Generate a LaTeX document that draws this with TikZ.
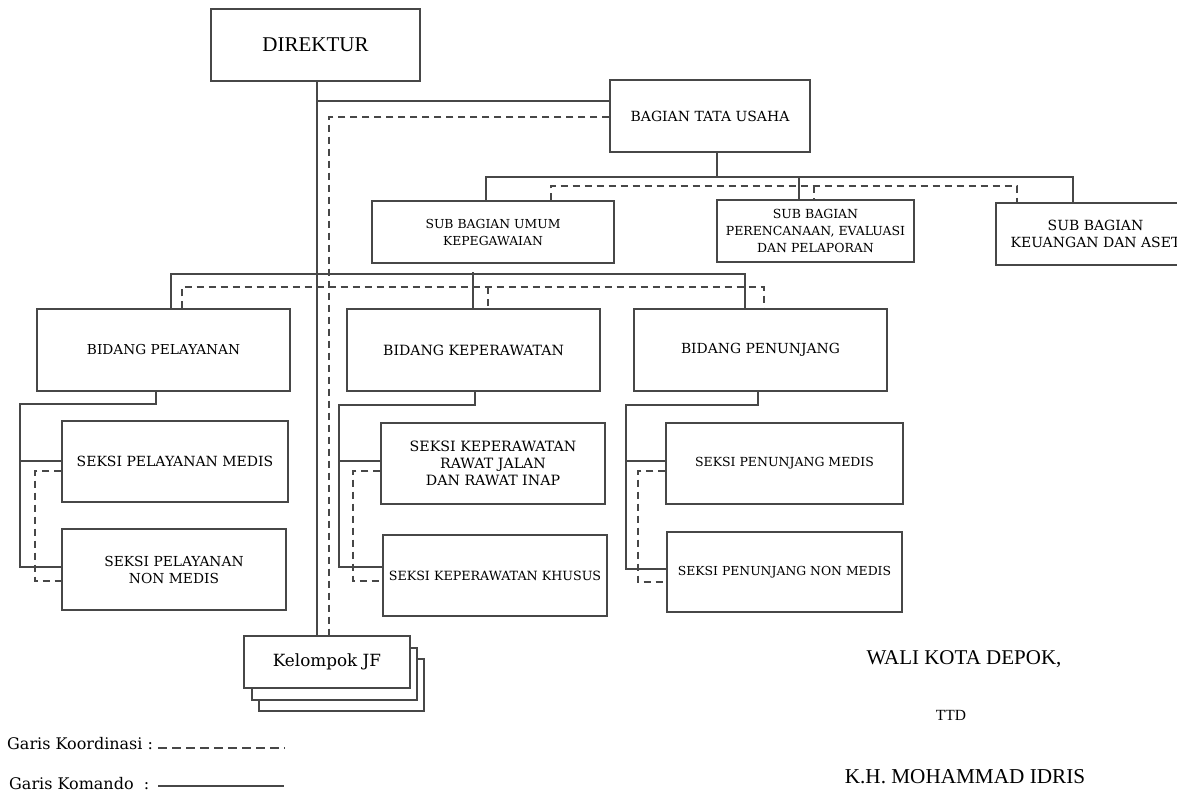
\documentclass[tikz,border=0pt]{standalone}
\usepackage{fontspec}
\setmainfont{Liberation Serif}
\newfontfamily\bx{DejaVu Serif}
\usetikzlibrary{calc}
\begin{document}
\begin{tikzpicture}[x=1pt,y=-1pt,
 ln/.style={draw=black!72, line width=1.3pt},
 dsh/.style={draw=black!72, line width=1.3pt, dash pattern=on 7pt off 5pt},
 box/.style={ln, fill=white, inner sep=0pt, align=center, font=\bx\fontsize{12.5}{17}\selectfont},
 fs/.style={font=\bx\fontsize{#1}{17}\selectfont},
 lbl/.style={inner sep=0pt, text=black},
]
\useasboundingbox (0,0) rectangle (1177,796);
% nodes
\node[box, minimum width=209pt, minimum height=72pt, font=\fontsize{21}{24}\selectfont] (dir) at (315.5,45) {DIREKTUR};
\node[box, fs=14, minimum width=200pt, minimum height=72pt] (btu) at (710,116) {BAGIAN TATA USAHA};
\node[box, fs=12.4, minimum width=242pt, minimum height=62pt] (sbu) at (493,232) {SUB BAGIAN UMUM\\KEPEGAWAIAN};
\node[box, fs=12.5, minimum width=197pt, minimum height=62pt] (sbp) at (815.5,231) {SUB BAGIAN\\PERENCANAAN, EVALUASI\\DAN PELAPORAN};
\node[box, fs=14, minimum width=199pt, minimum height=62pt] (sbk) at (1095.5,234) {SUB BAGIAN\\KEUANGAN DAN ASET};
\node[box, fs=13.7, minimum width=253pt, minimum height=82pt] (bp) at (163.5,350) {BIDANG PELAYANAN};
\node[box, fs=14.1, minimum width=253pt, minimum height=82pt] (bk) at (473.5,350) {BIDANG KEPERAWATAN};
\node[box, fs=13.9, minimum width=253pt, minimum height=82pt] (bpn) at (760.5,350) {BIDANG PENUNJANG};
\node[box, fs=14, minimum width=226pt, minimum height=81pt] (spm) at (175,461.5) {SEKSI PELAYANAN MEDIS};
\node[box, fs=13.8, minimum width=224pt, minimum height=81pt] (spn) at (174,569.5) {SEKSI PELAYANAN\\NON MEDIS};
\node[box, fs=14.2, minimum width=224pt, minimum height=81pt] (skr) at (493,463.5) {SEKSI KEPERAWATAN\\RAWAT JALAN\\DAN RAWAT INAP};
\node[box, fs=12.7, minimum width=224pt, minimum height=81pt] (skk) at (495,575.5) {SEKSI KEPERAWATAN KHUSUS};
\node[box, fs=12.5, minimum width=237pt, minimum height=81pt] (sjm) at (784.5,463.5) {SEKSI PENUNJANG MEDIS};
\node[box, fs=12.4, minimum width=235pt, minimum height=80pt] (sjn) at (784.5,572) {SEKSI PENUNJANG NON MEDIS};
\node[box, minimum width=165pt, minimum height=52pt] (jf3) at (341.5,685) {};
\node[box, minimum width=165pt, minimum height=52pt] (jf2) at (334.5,674) {};
\node[box, fs=16.8, minimum width=166pt, minimum height=52pt] (jf) at (327,662) {Kelompok JF};
% Direktur lines
\coordinate (jv) at (317,101);
\coordinate (jd) at (329,117);
\draw[ln] (dir.south -| jv) -- (jf.north -| jv);
\draw[ln] (jv) -- (btu.west |- jv);
\draw[dsh] (btu.west |- jd) -- (jd) -- (jf.north -| jd);
% Tata usaha
\coordinate (t0) at (717,177);
\coordinate (t1) at (486,177);
\coordinate (t2) at (799,177);
\coordinate (t3) at (1073,177);
\draw[ln] (btu.south -| t0) -- (t0);
\draw[ln] (sbu.north -| t1) -- (t1) -- (t3) -- (sbk.north -| t3);
\draw[ln] (t2) -- (sbp.north -| t2);
\coordinate (u1) at (551,186);
\coordinate (u2) at (814,186);
\coordinate (u3) at (1017,186);
\draw[dsh] (sbu.north -| u1) -- (u1) -- (u3) -- (sbk.north -| u3);
\draw[dsh] (u2) -- (sbp.north -| u2);
% Bidang level
\coordinate (b1) at (171,274);
\coordinate (b2) at (473,272);
\coordinate (b3) at (745,274);
\draw[ln] (bp.north -| b1) -- (b1) -- (b3) -- (bpn.north -| b3);
\draw[ln] (b2) -- (bk.north -| b2);
\coordinate (c1) at (182,287);
\coordinate (c2) at (488,287);
\coordinate (c3) at (764,287);
\draw[dsh] (bp.north -| c1) -- (c1) -- (c3) -- (bpn.north -| c3);
\draw[dsh] (c2) -- (bk.north -| c2);
% Pelayanan subtree
\coordinate (p0) at (156,404);
\coordinate (p1) at (20,404);
\coordinate (p2) at (20,461);
\coordinate (p3) at (20,567);
\draw[ln] (bp.south -| p0) -- (p0) -- (p1) -- (p3) -- (spn.west |- p3);
\draw[ln] (p2) -- (spm.west |- p2);
\coordinate (q1) at (35,471);
\coordinate (q2) at (35,581);
\draw[dsh] (spm.west |- q1) -- (q1) -- (q2) -- (spn.west |- q2);
% Keperawatan subtree
\coordinate (k0) at (475,405);
\coordinate (k1) at (339,405);
\coordinate (k2) at (339,461);
\coordinate (k3) at (339,567);
\draw[ln] (bk.south -| k0) -- (k0) -- (k1) -- (k3) -- (skk.west |- k3);
\draw[ln] (k2) -- (skr.west |- k2);
\coordinate (m1) at (353,471);
\coordinate (m2) at (353,581);
\draw[dsh] (skr.west |- m1) -- (m1) -- (m2) -- (skk.west |- m2);
% Penunjang subtree
\coordinate (n0) at (758,405);
\coordinate (n1) at (626,405);
\coordinate (n2) at (626,461);
\coordinate (n3) at (626,569);
\draw[ln] (bpn.south -| n0) -- (n0) -- (n1) -- (n3) -- (sjn.west |- n3);
\draw[ln] (n2) -- (sjm.west |- n2);
\coordinate (r1) at (638,471);
\coordinate (r2) at (638,582);
\draw[dsh] (sjm.west |- r1) -- (r1) -- (r2) -- (sjn.west |- r2);
% Legend
\node[lbl, anchor=west, font=\bx\fontsize{16}{18}\selectfont] (lk) at (7,744) {Garis Koordinasi :};
\node[lbl, anchor=west, font=\bx\fontsize{16}{18}\selectfont] (lm) at (9,784) {Garis Komando~~:};
\coordinate (lk1) at (158,748);
\coordinate (lk2) at (285,748);
\coordinate (lm1) at (158,786);
\coordinate (lm2) at (284,786);
\draw[dsh, dash pattern=on 9pt off 5pt] (lk1) -- (lk2);
\draw[ln] (lm1) -- (lm2);
% Signature
\node[lbl, font=\fontsize{21}{23}\selectfont] (wk) at (964,659) {WALI KOTA DEPOK,};
\node[lbl, font=\fontsize{15.5}{17}\selectfont] (ttd) at (951,715) {TTD};
\node[lbl, font=\fontsize{21.2}{23}\selectfont] (kh) at (965,777) {K.H. MOHAMMAD IDRIS};
\end{tikzpicture}
\end{document}
